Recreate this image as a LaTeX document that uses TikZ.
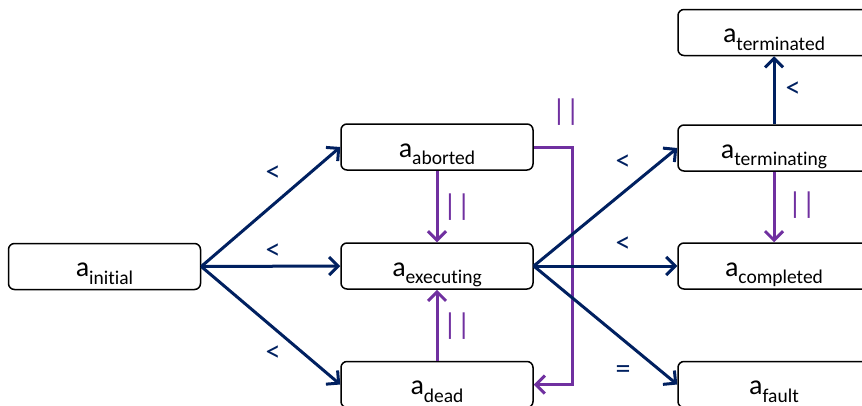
\documentclass[tikz,border=0pt]{standalone}
\usepackage{fontspec}
\setmainfont{Carlito}[Ligatures={NoCommon}]
\usetikzlibrary{arrows.meta}
\definecolor{navy}{RGB}{0,32,96}
\definecolor{violet}{RGB}{112,48,160}
\newcommand{\stname}[1]{{\fontsize{28}{30}\selectfont a}{\fontsize{19.5}{22}\selectfont\raisebox{-7.5pt}{#1}}}
\tikzset{
  state/.style={draw=black, line width=1.5pt, rounded corners=6pt, minimum width=192pt,
    minimum height=46pt, inner sep=0pt, fill=white, text height=20pt, text depth=0pt},
  prec/.style={draw=navy, line width=3pt, -{Straight Barb[length=9pt,width=18pt,line width=3pt]}},
  par/.style={draw=violet, line width=3pt, -{Straight Barb[length=9pt,width=18pt,line width=3pt]}},
  navylbl/.style={text=navy, font=\fontsize{30}{32}\selectfont, inner sep=0pt},
  violetlbl/.style={text=violet, font=\fontsize{30}{32}\selectfont, inner sep=0pt}
}
\begin{document}
\begin{tikzpicture}[x=1pt, y=-1pt]
\useasboundingbox (0,0) rectangle (862,405);
\clip (0,0) rectangle (862,405);
% states
\node[state] (init) at (104.5,266.5) {\stname{initial}};
\node[state] (abort) at (437,147) {\stname{aborted}};
\node[state] (exec) at (437,266) {\stname{executing}};
\node[state] (dead) at (437,384.5) {\stname{dead}};
\node[state] (termd) at (774,32.5) {\stname{terminated}};
\node[state] (terming) at (774,148) {\stname{terminating}};
\node[state] (compl) at (774,266) {\stname{completed}};
\node[state] (fault) at (774,384.5) {\stname{fault}};
% purple elbow from aborted to dead
\coordinate (elbow) at (572,147);
\draw[par] (abort.east) -- (elbow) |- (dead.east);
% precedence transitions
\draw[prec] (init.east) -- (abort.west);
\draw[prec] (init.east) -- (exec.west);
\draw[prec] (init.east) -- (dead.west);
\draw[prec] (exec.east) -- (terming.west);
\draw[prec] (exec.east) -- (compl.west);
\draw[prec] (exec.east) -- (fault.west);
\draw[prec] (terming.north) -- (termd.south);
% parallel transitions
\draw[par] (abort.south) -- (exec.north);
\draw[par] (dead.north) -- (exec.south);
\draw[par] (terming.south) -- (compl.north);
% labels
\node[navylbl] (l1) at (273,174) {<};
\node[navylbl] (l2) at (273,252) {<};
\node[navylbl] (l3) at (273,354) {<};
\node[navylbl] (l4) at (623,163) {<};
\node[navylbl] (l5) at (623,245) {<};
\node[navylbl] (l6) at (623,372) {=};
\node[navylbl] (l7) at (793,90) {<};
\node[violetlbl] (p1) at (457,207) {||};
\node[violetlbl] (p2) at (457,326) {||};
\node[violetlbl] (p3) at (802,205) {||};
\node[violetlbl] (p4) at (566,112) {||};
\end{tikzpicture}
\end{document}
